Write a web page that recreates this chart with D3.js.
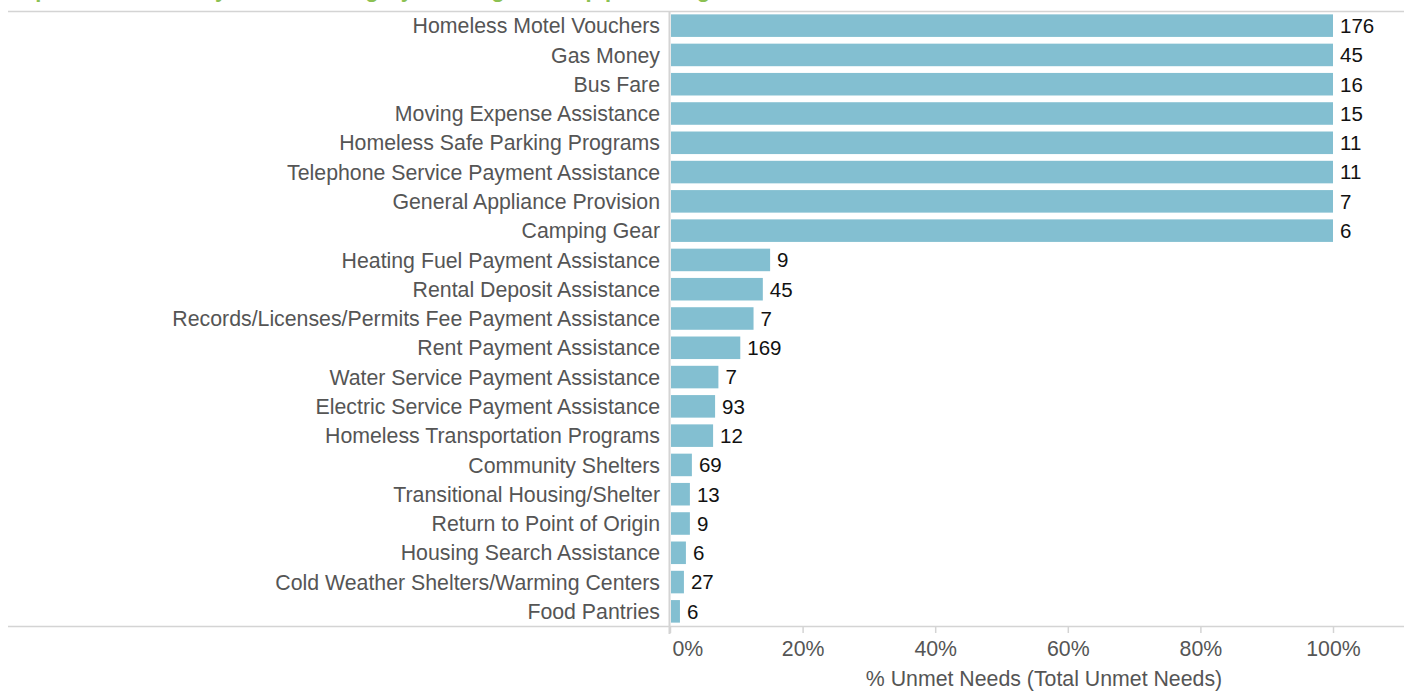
<!DOCTYPE html>
<html>
<head>
<meta charset="utf-8">
<script src="https://cdn.jsdelivr.net/npm/d3@7"></script>
<style>
  html, body { margin: 0; padding: 0; background: #fff; }
  svg { display: block; font-family: "Liberation Sans", Arial, sans-serif; }
</style>
</head>
<body>
<svg id="chart" width="1404" height="691"></svg>
<script>
const categories = [
  "Homeless Motel Vouchers", "Gas Money", "Bus Fare", "Moving Expense Assistance",
  "Homeless Safe Parking Programs", "Telephone Service Payment Assistance",
  "General Appliance Provision", "Camping Gear", "Heating Fuel Payment Assistance",
  "Rental Deposit Assistance", "Records/Licenses/Permits Fee Payment Assistance",
  "Rent Payment Assistance", "Water Service Payment Assistance",
  "Electric Service Payment Assistance", "Homeless Transportation Programs",
  "Community Shelters", "Transitional Housing/Shelter", "Return to Point of Origin",
  "Housing Search Assistance", "Cold Weather Shelters/Warming Centers", "Food Pantries"
];
const pctUnmet = [1.0, 1.0, 1.0, 1.0, 1.0, 1.0, 1.0, 1.0, 0.151, 0.140, 0.126, 0.106,
  0.073, 0.068, 0.065, 0.033, 0.030, 0.030, 0.024, 0.021, 0.015];
const totalUnmet = [176, 45, 16, 15, 11, 11, 7, 6, 9, 45, 7, 169, 7, 93, 12, 69, 13, 9, 6, 27, 6];
const tickValues = [0, 0.2, 0.4, 0.6, 0.8, 1.0];
const axisTitle = "% Unmet Needs (Total Unmet Needs)";
const chartTitle = "Top Unmet Needs by Service Category with Highest Gap percentages";

const data = categories.map((c, i) => ({ cat: c, pct: pctUnmet[i], total: totalUnmet[i] }));

const svg = d3.select("#chart");
const paneTop = 11, paneBottom = 626;
const labelSize = 21.3;

const x = d3.scaleLinear().domain([0, 1]).range([670, 1333]);
const y = d3.scaleBand().domain(categories).range([paneTop, paneBottom])
  .paddingInner(0.23).paddingOuter(0.115);

// cut-off title (only its descenders show, as in the reference)
svg.append("text").attr("x", 10).attr("y", -3)
  .attr("fill", "#8cc152").attr("font-weight", "bold").attr("font-size", 22)
  .text(chartTitle);

// bars
svg.append("g").selectAll("rect").data(data).join("rect")
  .attr("x", x(0) + 1)
  .attr("y", d => y(d.cat))
  .attr("width", d => Math.max(0, x(d.pct) - x(0) - 1))
  .attr("height", y.bandwidth())
  .attr("fill", "#83bfd1");

// value labels
svg.append("g").selectAll("text").data(data).join("text")
  .attr("x", d => x(d.pct) + 7)
  .attr("y", d => y(d.cat) + y.bandwidth() / 2)
  .attr("dy", "0.36em")
  .attr("font-size", 20.5)
  .attr("fill", "#111")
  .text(d => d.total);

// category labels
svg.append("g").selectAll("text").data(data).join("text")
  .attr("x", 660)
  .attr("y", d => y(d.cat) + y.bandwidth() / 2)
  .attr("dy", "0.36em")
  .attr("text-anchor", "end")
  .attr("font-size", labelSize)
  .attr("fill", "#555")
  .text(d => d.cat);

// frame lines
svg.append("line").attr("x1", 8).attr("x2", 1404).attr("y1", 11.5).attr("y2", 11.5)
  .attr("stroke", "#d4d4d4").attr("stroke-width", 1.5);
svg.append("line").attr("x1", 8).attr("x2", 1404).attr("y1", 626.5).attr("y2", 626.5)
  .attr("stroke", "#d4d4d4").attr("stroke-width", 1.5);
svg.append("line").attr("x1", 669.5).attr("x2", 669.5).attr("y1", 11).attr("y2", 634)
  .attr("stroke", "#d4d4d4").attr("stroke-width", 2);

// x axis
const axis = d3.axisBottom(x).tickValues(tickValues).tickFormat(d3.format(".0%"))
  .tickSize(7).tickPadding(8);
const ax = svg.append("g").attr("transform", `translate(0,${paneBottom})`).call(axis);
ax.select(".domain").remove();
ax.selectAll(".tick line").attr("stroke", "#d4d4d4").attr("stroke-width", 1.5);
ax.selectAll(".tick text").attr("fill", "#555").attr("font-size", labelSize)
  .attr("font-family", "Liberation Sans, Arial, sans-serif")
  .attr("text-anchor", d => d === 0 ? "start" : "middle")
  .attr("dx", d => d === 0 ? 2 : 0);

svg.append("text").attr("x", 1044).attr("y", 686)
  .attr("text-anchor", "middle").attr("font-size", labelSize).attr("fill", "#555")
  .text(axisTitle);
</script>
</body>
</html>
